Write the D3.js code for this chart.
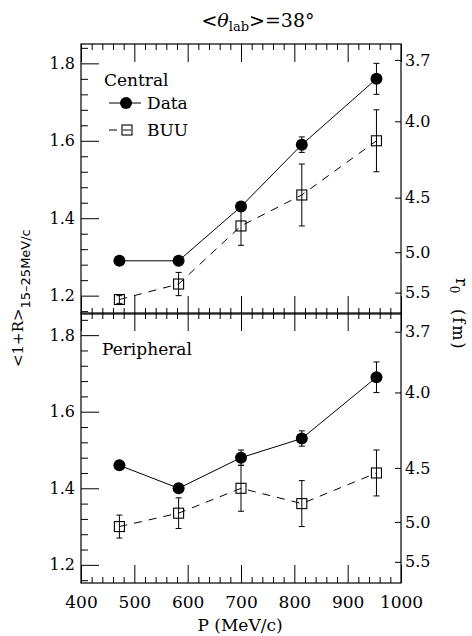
<!DOCTYPE html>
<html>
<head>
<meta charset="utf-8">
<script src="https://cdn.jsdelivr.net/npm/d3@7"></script>
<style>
  body { margin: 0; background: #fff; }
  svg text { font-family: "DejaVu Serif", serif; fill: #000; }
</style>
</head>
<body>
<script>
// beam momentum (MeV/c)
var momentum = [472, 583, 700, 814, 954];

// central collisions
var centralData    = [1.29, 1.29, 1.43, 1.59, 1.76];
var centralDataErr = [0.004, 0.004, 0.012, 0.02, 0.04];
var centralBuu     = [1.19, 1.23, 1.38, 1.46, 1.60];
var centralBuuErr  = [0.01, 0.03, 0.05, 0.08, 0.08];

// peripheral collisions
var periphData    = [1.46, 1.40, 1.48, 1.53, 1.69];
var periphDataErr = [0.004, 0.006, 0.02, 0.02, 0.04];
var periphBuu     = [1.30, 1.335, 1.40, 1.36, 1.44];
var periphBuuErr  = [0.03, 0.04, 0.06, 0.06, 0.06];

// axes
var xTicks  = [400, 500, 600, 700, 800, 900, 1000];
var yTicks  = [1.2, 1.4, 1.6, 1.8];
var r0Ticks = [3.7, 4.0, 4.5, 5.0, 5.5];

var width = 472, height = 636;
var left = 81, right = 401;

var svg = d3.select("body").append("svg")
    .attr("width", width).attr("height", height);

var x = d3.scaleLinear().domain([400, 1000]).range([left, right]);

// <1+R> <-> r0 relation
function rFromR(v) { return Math.sqrt(15.03 / (v - 0.711)); }

var xMinor = d3.range(420, 1000, 20).filter(function(d) { return d % 100 != 0; });
var yMinor = d3.range(1.16, 1.85, 0.04).filter(function(d) {
    return Math.abs(d * 5 - Math.round(d * 5)) > 0.01;
});

var panels = [
    { top: 44, bottom: 314, range: [315, 44], label: "Central",
      data: centralData, dataErr: centralDataErr, buu: centralBuu, buuErr: centralBuuErr, legend: true },
    { top: 313, bottom: 583, range: [584, 316], label: "Peripheral",
      data: periphData, dataErr: periphDataErr, buu: periphBuu, buuErr: periphBuuErr, legend: false }
];

panels.forEach(function(p, pi) {
    var y = d3.scaleLinear().domain([1.15, 1.85]).range(p.range);
    var r = d3.scalePow().exponent(-2).domain([rFromR(1.15), rFromR(1.85)]).range(p.range);
    var g = svg.append("g");

    // frame
    g.append("rect")
        .attr("x", left).attr("y", p.top)
        .attr("width", right - left).attr("height", p.bottom - p.top)
        .attr("fill", "none").attr("stroke", "#000").attr("stroke-width", 1.2);

    // left axis
    g.append("g").attr("transform", "translate(" + left + ",0)")
        .call(d3.axisLeft(y).tickValues(yTicks).tickSizeInner(-18).tickSizeOuter(0)
            .tickPadding(6).tickFormat(d3.format(".1f")))
        .call(function(a) {
            a.select(".domain").remove();
            a.selectAll("text").style("font-family", "DejaVu Serif").style("font-size", "16px");
        });
    g.append("g").attr("transform", "translate(" + left + ",0)")
        .call(d3.axisLeft(y).tickValues(yMinor).tickSizeInner(-7).tickSizeOuter(0).tickFormat(""))
        .call(function(a) { a.select(".domain").remove(); });

    // right axis, r0 (fm)
    g.append("g").attr("transform", "translate(" + right + ",0)")
        .call(d3.axisRight(r).tickValues(r0Ticks).tickSizeInner(-6).tickSizeOuter(0)
            .tickPadding(4).tickFormat(d3.format(".1f")))
        .call(function(a) {
            a.select(".domain").remove();
            a.selectAll("text").style("font-family", "DejaVu Serif").style("font-size", "16px");
        });

    // top and bottom edges
    [[p.top, d3.axisTop], [p.bottom, d3.axisBottom]].forEach(function(e) {
        g.append("g").attr("transform", "translate(0," + e[0] + ")")
            .call(e[1](x).tickValues(xTicks).tickSizeInner(-18).tickSizeOuter(0).tickFormat(""))
            .call(function(a) { a.select(".domain").remove(); });
        g.append("g").attr("transform", "translate(0," + e[0] + ")")
            .call(e[1](x).tickValues(xMinor).tickSizeInner(-6).tickSizeOuter(0).tickFormat(""))
            .call(function(a) { a.select(".domain").remove(); });
    });
    g.selectAll(".tick line").attr("stroke", "#000").attr("stroke-width", 1);

    // lines
    var line = function(vals) {
        return d3.line().x(function(d, i) { return x(momentum[i]); })
                        .y(function(d) { return y(d); })(vals);
    };
    g.append("path").attr("d", line(p.buu)).attr("fill", "none")
        .attr("stroke", "#000").attr("stroke-width", 1).attr("stroke-dasharray", "8,7");
    g.append("path").attr("d", line(p.data)).attr("fill", "none")
        .attr("stroke", "#000").attr("stroke-width", 1);

    // error bars
    function errBars(vals, errs) {
        vals.forEach(function(v, i) {
            var cx = x(momentum[i]);
            var y0 = y(v - errs[i]), y1 = y(v + errs[i]);
            g.append("line").attr("x1", cx).attr("x2", cx).attr("y1", y0).attr("y2", y1)
                .attr("stroke", "#000").attr("stroke-width", 1);
            [y0, y1].forEach(function(yy) {
                g.append("line").attr("x1", cx - 3).attr("x2", cx + 3).attr("y1", yy).attr("y2", yy)
                    .attr("stroke", "#000").attr("stroke-width", 1);
            });
        });
    }
    errBars(p.buu, p.buuErr);

    g.selectAll(".buu").data(p.buu).enter().append("rect")
        .attr("x", function(d, i) { return x(momentum[i]) - 5; })
        .attr("y", function(d) { return y(d) - 5; })
        .attr("width", 10).attr("height", 10)
        .attr("fill", "none").attr("stroke", "#000").attr("stroke-width", 1.1);

    g.selectAll(".dat").data(p.data).enter().append("circle")
        .attr("cx", function(d, i) { return x(momentum[i]); })
        .attr("cy", function(d) { return y(d); })
        .attr("r", 6).attr("fill", "#000");
    errBars(p.data, p.dataErr);

    // panel label
    g.append("text").attr("x", pi == 0 ? 104 : 102).attr("y", p.top + 42)
        .style("font-size", "17px").text(p.label);

    if (p.legend) {
        g.append("line").attr("x1", 109).attr("x2", 141).attr("y1", 103).attr("y2", 103)
            .attr("stroke", "#000").attr("stroke-width", 1);
        g.append("circle").attr("cx", 126).attr("cy", 103).attr("r", 6).attr("fill", "#000");
        g.append("text").attr("x", 147).attr("y", 109).style("font-size", "17px").text("Data");

        g.append("line").attr("x1", 109).attr("x2", 132).attr("y1", 130).attr("y2", 130)
            .attr("stroke", "#000").attr("stroke-width", 1).attr("stroke-dasharray", "8,6");
        g.append("rect").attr("x", 122).attr("y", 125).attr("width", 10).attr("height", 10)
            .attr("fill", "none").attr("stroke", "#000").attr("stroke-width", 1.1);
        g.append("text").attr("x", 147).attr("y", 136).style("font-size", "17px").text("BUU");
    }
});

// x tick labels
svg.append("g").attr("transform", "translate(0,583)")
    .call(d3.axisBottom(x).tickValues(xTicks).tickSize(0).tickPadding(13).tickFormat(d3.format("d")))
    .call(function(a) {
        a.select(".domain").remove();
        a.selectAll("text").style("font-family", "DejaVu Serif").style("font-size", "17px");
    });

svg.append("text").attr("x", 240).attr("y", 631).attr("text-anchor", "middle")
    .style("font-size", "17px").text("P (MeV/c)");

// title
var title = svg.append("text").attr("x", 258).attr("y", 27).attr("text-anchor", "middle")
    .style("font-size", "19px");
title.append("tspan").text("<");
title.append("tspan").style("font-style", "italic").text("\u03b8");
title.append("tspan").attr("dy", 4).style("font-size", "13px").text("lab");
title.append("tspan").attr("dy", -4).text(">=38\u00b0");

// left title
var yl = svg.append("text").attr("transform", "translate(23,367) rotate(-90)")
    .style("font-size", "15px");
yl.append("tspan").text("<1+R>");
yl.append("tspan").attr("dy", 7).style("font-family", "DejaVu Sans").style("font-size", "13px")
    .text("15\u201325MeV/c");

// right title
var rl = svg.append("text").attr("transform", "translate(453,278) rotate(90)")
    .style("font-size", "16px");
rl.append("tspan").attr("dy", -3).text("r");
rl.append("tspan").attr("dy", 6).style("font-size", "12px").text("0");
rl.append("tspan").attr("x", 31).attr("dy", -3).style("letter-spacing", "2px").text("(fm)");
</script>
</body>
</html>
